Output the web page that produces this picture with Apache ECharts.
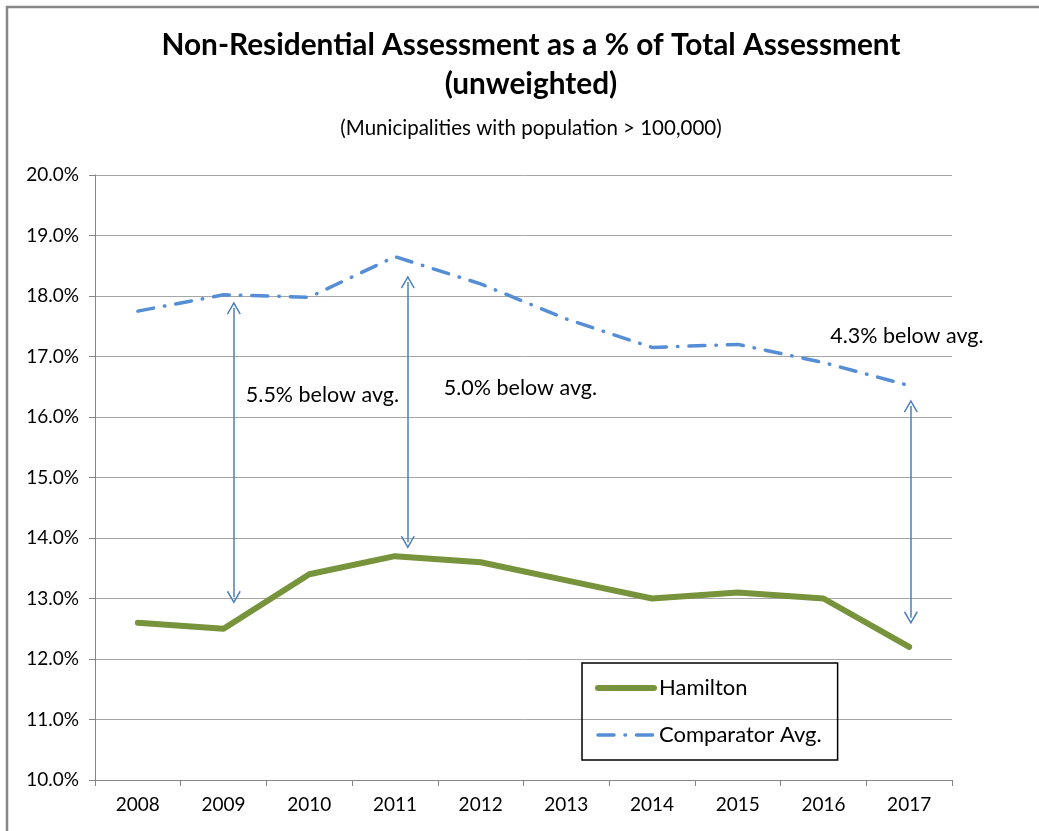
<!DOCTYPE html>
<html>
<head>
<meta charset="utf-8">
<script src="https://cdn.jsdelivr.net/npm/echarts@6/dist/echarts.min.js"></script>
<style>
  html, body { margin: 0; padding: 0; background: #fff; }
  #chart { width: 1039px; height: 831px; }
</style>
</head>
<body>
<div id="chart"></div>
<script>
// chart data
const years = ['2008', '2009', '2010', '2011', '2012', '2013', '2014', '2015', '2016', '2017'];
const hamilton = [12.6, 12.5, 13.4, 13.7, 13.6, 13.3, 13.0, 13.1, 13.0, 12.2];
const comparator = [17.75, 18.02, 17.98, 18.65, 18.2, 17.62, 17.15, 17.2, 16.9, 16.52];

// gap arrows (x as fractional year, y in %)
const arrowX = [2009.12, 2011.15, 2017.02];
const arrowTop = [17.8, 18.23, 16.18];
const arrowBottom = [13.02, 13.93, 12.68];

// notes
const noteText = ['5.5% below avg.', '5.0% below avg.', '4.3% below avg.'];
const noteX = [2009.26, 2011.57, 2016.08];
const noteY = [16.36, 16.48, 17.34];

const FONT = 'Lato';
const chevron = 'path://M0,0 L8,13 L6.6,13.9 L0,3.2 L-6.6,13.9 L-8,13 Z';

const chart = echarts.init(document.getElementById('chart'));

const arrowLines = arrowX.map((x, i) => [
  { coord: [x, arrowBottom[i]] },
  { coord: [x, arrowTop[i]] }
]);

const notePoints = noteText.map((t, i) => ({
  coord: [noteX[i], noteY[i]],
  label: { formatter: t }
}));

const option = {
  animation: false,
  graphic: [{
    type: 'rect',
    shape: { x: 7, y: 7, width: 1100, height: 1000 },
    style: { fill: 'none', stroke: '#878787', lineWidth: 2.5 },
    silent: true
  }, {
    type: 'text',
    x: 531, y: 45,
    style: {
      text: 'Non-Residential Assessment as a % of Total Assessment',
      fontFamily: FONT, fontWeight: 'bold', fontSize: 29.8, fill: '#000',
      align: 'center', verticalAlign: 'middle'
    }
  }, {
    type: 'text',
    x: 531, y: 84,
    style: {
      text: '(unweighted)',
      fontFamily: FONT, fontWeight: 'bold', fontSize: 29.8, fill: '#000',
      align: 'center', verticalAlign: 'middle'
    }
  }, {
    type: 'text',
    x: 531, y: 128,
    style: {
      text: '(Municipalities with population > 100,000)',
      fontFamily: FONT, fontSize: 20.5, fill: '#000',
      align: 'center', verticalAlign: 'middle'
    }
  }],
  legend: {
    orient: 'vertical',
    left: 582,
    top: 663,
    padding: [14, 16, 14, 13],
    borderColor: '#000',
    borderWidth: 1.5,
    itemWidth: 56,
    itemHeight: 20,
    itemGap: 25,
    itemStyle: { opacity: 0 },
    textStyle: { fontFamily: FONT, fontSize: 22, color: '#000' },
    data: [
      { name: 'Hamilton', lineStyle: { width: 6 } },
      { name: 'Comparator Avg.', lineStyle: { width: 3.5 } }
    ]
  },
  grid: { left: 95, right: 87, top: 175, bottom: 51, containLabel: false },
  xAxis: [{
    type: 'category',
    data: years,
    boundaryGap: true,
    axisLine: { lineStyle: { color: '#868686', width: 1 } },
    axisTick: { show: true, length: 6, lineStyle: { color: '#868686' } },
    axisLabel: { fontFamily: FONT, fontSize: 19, color: '#000', margin: 15 }
  }, {
    type: 'value',
    min: 2007.5,
    max: 2017.5,
    show: false
  }],
  yAxis: {
    type: 'value',
    min: 10,
    max: 20,
    interval: 1,
    axisLine: { show: true, lineStyle: { color: '#868686', width: 1 } },
    axisTick: { show: true, length: 6, lineStyle: { color: '#868686' } },
    splitLine: { lineStyle: { color: '#a6a6a6', width: 1 } },
    axisLabel: {
      fontFamily: FONT, fontSize: 19, color: '#000', margin: 16,
      formatter: v => v.toFixed(1) + '%'
    }
  },
  series: [
    {
      name: 'Hamilton',
      type: 'line',
      data: hamilton,
      symbol: 'none',
      itemStyle: { color: '#77933C' },
      lineStyle: { color: '#77933C', width: 6, join: 'round', cap: 'round' },
      z: 3
    },
    {
      name: 'Comparator Avg.',
      type: 'line',
      data: comparator,
      symbol: 'none',
      itemStyle: { color: '#558ED5' },
      lineStyle: { color: '#558ED5', width: 3.5, type: [16, 11, 0.5, 11], cap: 'round', join: 'round' },
      z: 3
    },
    {
      name: 'arrows',
      type: 'line',
      xAxisIndex: 1,
      data: [],
      silent: true,
      markLine: {
        silent: true,
        symbol: [chevron, chevron],
        symbolSize: [14, 13],
        label: { show: false },
        lineStyle: { color: '#4A7EBB', width: 1.5, type: 'solid' },
        emphasis: { disabled: true },
        data: arrowLines
      },
      markPoint: {
        silent: true,
        symbol: 'circle',
        symbolSize: 0,
        label: {
          show: true,
          position: 'right',
          distance: 0,
          fontFamily: FONT,
          fontSize: 21.5,
          color: '#000'
        },
        data: notePoints
      }
    }
  ]
};

chart.setOption(option);
</script>
</body>
</html>
